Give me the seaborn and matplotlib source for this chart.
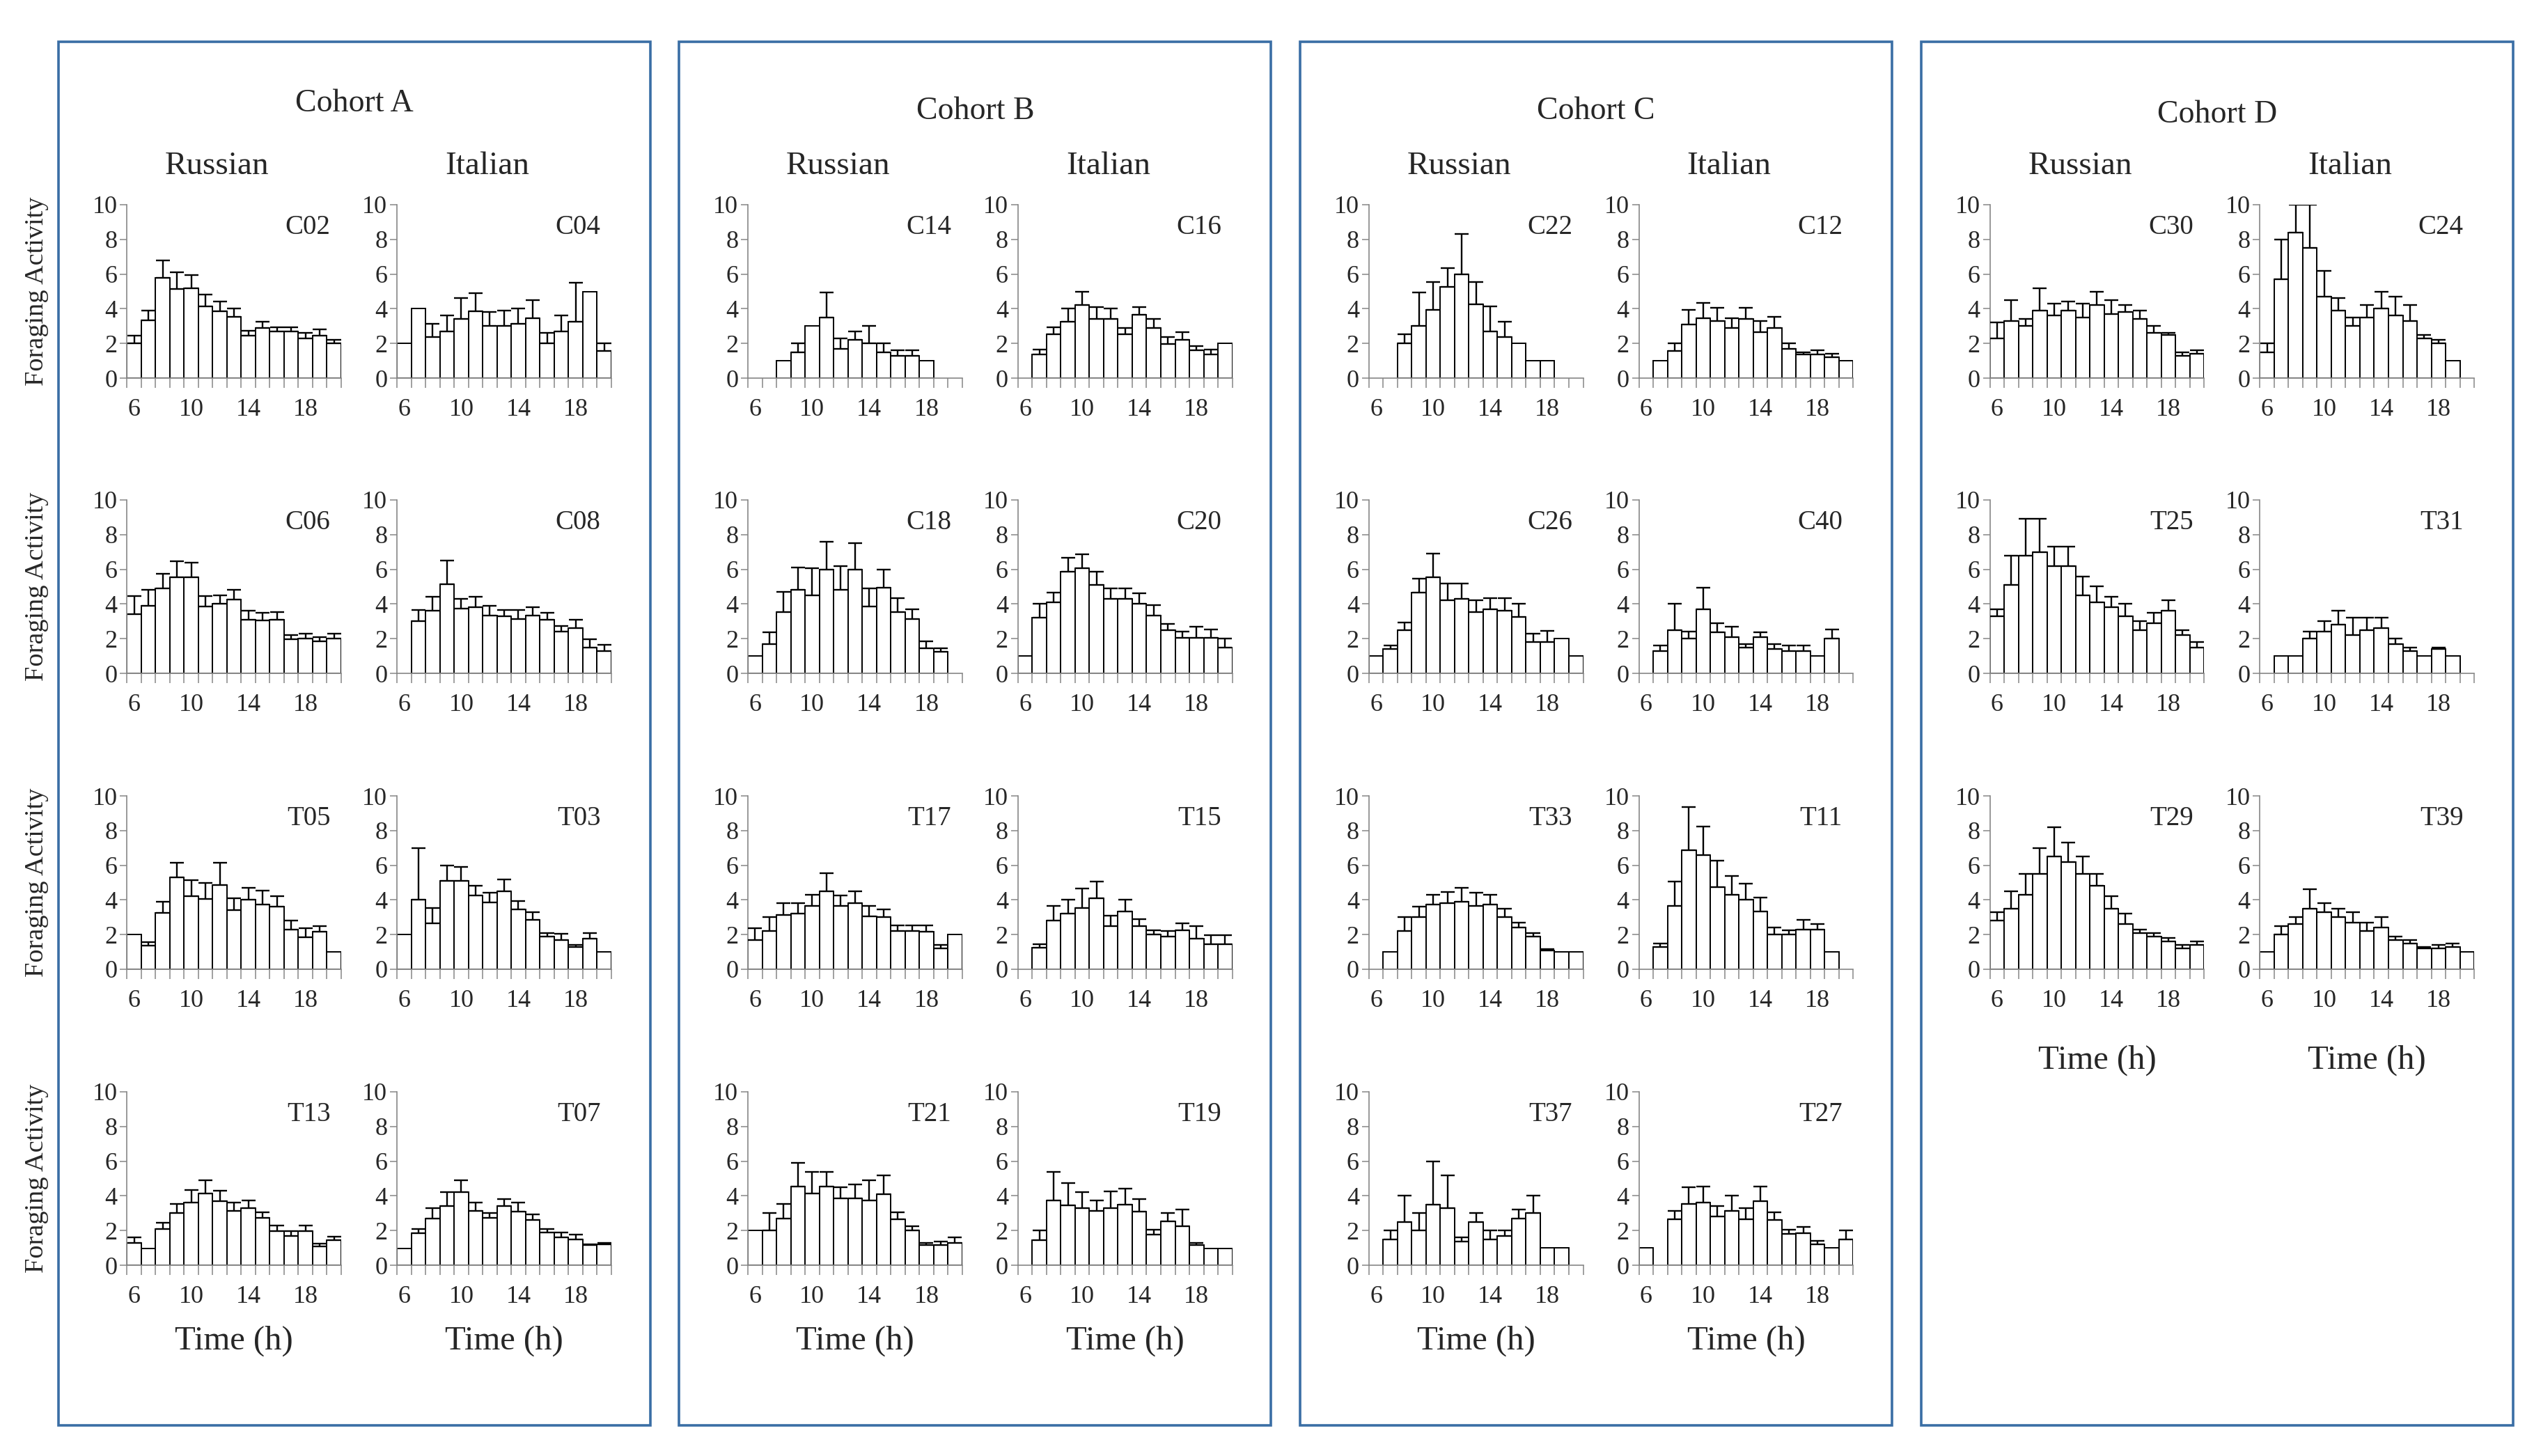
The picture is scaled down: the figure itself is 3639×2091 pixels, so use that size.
import numpy as np
import pandas as pd
import matplotlib
matplotlib.use("Agg")
import matplotlib.pyplot as plt
import seaborn as sns
from matplotlib.patches import Rectangle

sns.set_style("white")
plt.rcParams["font.family"] = ["Liberation Serif", "DejaVu Serif"]

# ---------------- data ----------------
HOURS = list(range(6, 21))
TICK_HOURS = [6, 10, 14, 18]
COHORT_TITLES = ["Cohort A", "Cohort B", "Cohort C", "Cohort D"]
LINE_TITLES = ["Russian", "Italian"]
Y_LABEL = "Foraging Activity"
X_LABEL = "Time (h)"

# Cohort A
C02_mean = [2.0, 3.35, 5.8, 5.15, 5.2, 4.15, 3.85, 3.55, 2.45, 2.9, 2.7, 2.7, 2.3, 2.45, 2.0]
C02_upper = [2.45, 3.9, 6.8, 6.1, 5.95, 4.8, 4.4, 4.0, 2.75, 3.25, 2.95, 2.95, 2.6, 2.8, 2.2]
C04_mean = [2.0, 4.0, 2.35, 2.7, 3.4, 3.85, 3.0, 3.0, 3.15, 3.45, 2.0, 2.7, 3.25, 5.0, 1.55]
C04_upper = [None, None, 3.15, 3.6, 4.6, 4.9, 3.8, 3.9, 4.0, 4.5, 2.6, 3.6, 5.5, None, 2.0]
C06_mean = [3.4, 3.9, 4.9, 5.55, 5.55, 3.85, 4.0, 4.25, 3.1, 3.05, 3.1, 1.95, 2.0, 1.85, 2.0]
C06_upper = [4.45, 4.8, 5.75, 6.45, 6.4, 4.45, 4.5, 4.8, 3.6, 3.5, 3.55, 2.2, 2.3, 2.1, 2.3]
C08_mean = [None, 3.0, 3.6, 5.15, 3.75, 3.8, 3.35, 3.3, 3.15, 3.35, 3.1, 2.4, 2.6, 1.5, 1.3]
C08_upper = [None, 3.65, 4.4, 6.5, 4.3, 4.4, 3.9, 3.65, 3.65, 3.8, 3.5, 2.75, 3.1, 1.95, 1.65]
T05_mean = [2.0, 1.35, 3.25, 5.3, 4.2, 4.05, 4.85, 3.4, 4.0, 3.75, 3.6, 2.3, 1.85, 2.15, 1.0]
T05_upper = [None, 1.55, 3.9, 6.15, 5.15, 5.0, 6.15, 4.1, 4.7, 4.55, 4.2, 2.8, 2.35, 2.5, None]
T03_mean = [2.0, 4.0, 2.65, 5.1, 5.1, 4.25, 3.85, 4.5, 3.45, 2.85, 1.9, 1.7, 1.3, 1.75, 1.0]
T03_upper = [None, 7.0, 3.55, 6.0, 5.9, 4.8, 4.4, 5.2, 3.95, 3.3, 2.1, 2.05, 1.4, 2.1, None]
T13_mean = [1.3, 0.95, 2.1, 3.0, 3.6, 4.15, 3.7, 3.15, 3.3, 2.75, 1.95, 1.7, 1.95, 1.1, 1.45]
T13_upper = [1.6, None, 2.45, 3.55, 4.35, 4.9, 4.3, 3.6, 3.75, 3.05, 2.3, 1.95, 2.3, 1.25, 1.65]
T07_mean = [0.95, 1.85, 2.7, 3.4, 4.2, 3.15, 2.75, 3.4, 3.1, 2.6, 1.9, 1.6, 1.5, 1.15, 1.2]
T07_upper = [None, 2.1, 3.3, 4.2, 4.9, 3.6, 3.0, 3.8, 3.6, 2.95, 2.1, 1.9, 1.75, 1.2, 1.3]

# Cohort B
C14_mean = [None, None, 1.0, 1.5, 3.0, 3.5, 1.7, 2.2, 2.0, 1.5, 1.3, 1.3, 1.0, None, None]
C14_upper = [None, None, None, 2.0, None, 4.95, 2.3, 2.7, 3.0, 2.0, 1.6, 1.6, None, None, None]
C16_mean = [None, 1.35, 2.55, 3.25, 4.2, 3.4, 3.4, 2.55, 3.65, 2.9, 1.95, 2.2, 1.6, 1.35, 2.0]
C16_upper = [None, 1.65, 2.95, 4.0, 5.0, 4.1, 4.0, 2.9, 4.1, 3.4, 2.35, 2.65, 1.85, 1.65, None]
C18_mean = [1.0, 1.7, 3.55, 4.8, 4.5, 6.0, 4.8, 6.0, 3.85, 4.95, 3.55, 3.15, 1.45, 1.25, None]
C18_upper = [None, 2.35, 4.7, 6.1, 6.05, 7.6, 6.2, 7.5, 4.9, 6.0, 4.35, 3.7, 1.85, 1.45, None]
C20_mean = [1.0, 3.2, 4.1, 5.85, 6.05, 5.1, 4.3, 4.3, 4.0, 3.35, 2.5, 2.05, 2.05, 2.05, 1.5]
C20_upper = [None, 4.0, 4.65, 6.65, 6.85, 5.85, 4.9, 4.9, 4.6, 3.95, 2.85, 2.4, 2.7, 2.55, 2.0]
T17_mean = [1.7, 2.2, 3.15, 3.2, 3.65, 4.5, 3.65, 3.8, 3.05, 3.0, 2.2, 2.2, 2.15, 1.2, 2.0]
T17_upper = [2.35, 3.0, 3.8, 3.8, 4.3, 5.55, 4.25, 4.5, 3.65, 3.45, 2.55, 2.55, 2.55, 1.4, None]
T15_mean = [None, 1.25, 2.8, 3.2, 3.55, 4.1, 2.5, 3.35, 2.5, 2.0, 1.9, 2.25, 1.75, 1.45, 1.45]
T15_upper = [None, 1.45, 3.65, 4.0, 4.65, 5.05, 3.1, 4.0, 2.9, 2.25, 2.2, 2.65, 2.5, 1.95, 1.95]
T21_mean = [2.0, 2.0, 2.7, 4.55, 4.15, 4.55, 3.85, 3.85, 3.75, 4.1, 2.65, 2.0, 1.15, 1.15, 1.3]
T21_upper = [None, 3.0, 3.55, 5.9, 5.4, 5.4, 4.5, 4.65, 4.9, 5.2, 3.05, 2.25, 1.3, 1.35, 1.6]
T19_mean = [None, 1.45, 3.75, 3.45, 3.3, 3.15, 3.3, 3.5, 3.1, 1.75, 2.55, 2.25, 1.15, 0.95, 0.95]
T19_upper = [None, 2.0, 5.4, 4.75, 4.2, 3.75, 4.25, 4.4, 3.8, 2.05, 3.0, 3.2, 1.3, None, None]

# Cohort C
C22_mean = [None, None, 2.0, 3.0, 3.95, 5.25, 6.0, 4.25, 2.7, 2.35, 2.0, 1.0, 1.0, None, None]
C22_upper = [None, None, 2.55, 4.95, 5.55, 6.35, 8.3, 5.55, 4.15, 3.25, None, None, None, None, None]
C12_mean = [None, 1.0, 1.55, 3.1, 3.45, 3.3, 2.9, 3.4, 2.65, 2.9, 1.7, 1.35, 1.35, 1.2, 1.0]
C12_upper = [None, None, 2.0, 3.95, 4.35, 4.05, 3.45, 4.05, 3.3, 3.55, 2.0, 1.5, 1.6, 1.4, None]
C26_mean = [1.0, 1.4, 2.5, 4.65, 5.55, 4.2, 4.3, 3.55, 3.7, 3.6, 3.25, 1.8, 1.8, 2.0, 1.0]
C26_upper = [None, 1.6, 2.95, 5.45, 6.9, 5.2, 5.2, 4.2, 4.35, 4.35, 4.0, 2.3, 2.45, None, None]
C40_mean = [None, 1.3, 2.5, 2.0, 3.7, 2.35, 2.1, 1.5, 2.1, 1.4, 1.3, 1.3, 1.0, 2.0, None]
C40_upper = [None, 1.6, 4.0, 2.4, 4.95, 2.9, 2.7, 1.7, 2.35, 1.7, 1.6, 1.6, None, 2.55, None]
T33_mean = [None, 1.0, 2.2, 3.0, 3.75, 3.8, 3.9, 3.65, 3.75, 3.0, 2.4, 1.9, 1.1, 1.0, 1.0]
T33_upper = [None, None, 3.0, 3.6, 4.3, 4.45, 4.7, 4.4, 4.3, 3.5, 2.7, 2.1, 1.15, None, None]
T11_mean = [None, 1.3, 3.65, 6.85, 6.6, 4.75, 4.3, 4.0, 3.35, 2.0, 2.0, 2.3, 2.3, 1.0, None]
T11_upper = [None, 1.5, 5.05, 9.35, 8.25, 6.25, 5.4, 4.95, 4.15, 2.4, 2.25, 2.85, 2.6, None, None]
T37_mean = [None, 1.5, 2.5, 2.0, 3.5, 3.3, 1.35, 2.5, 1.5, 1.7, 2.7, 3.0, 1.0, 1.0, None]
T37_upper = [None, 2.0, 4.0, 3.0, 6.0, 5.2, 1.6, 3.0, 2.0, 2.0, 3.2, 4.0, None, None, None]
T27_mean = [1.0, None, 2.65, 3.55, 3.6, 2.8, 3.15, 2.65, 3.7, 2.6, 1.8, 1.85, 1.2, 1.0, 1.5]
T27_upper = [None, None, 3.15, 4.5, 4.55, 3.4, 4.0, 3.3, 4.55, 3.05, 2.05, 2.2, 1.4, None, 2.0]

# Cohort D
C30_mean = [2.3, 3.3, 3.0, 3.9, 3.6, 3.9, 3.5, 4.2, 3.7, 3.8, 3.4, 2.6, 2.5, 1.3, 1.4]
C30_upper = [3.2, 4.5, 3.4, 5.2, 4.3, 4.4, 4.3, 5.0, 4.5, 4.2, 3.9, 3.0, 2.6, 1.5, 1.6]
C24_mean = [1.5, 5.7, 8.4, 7.5, 4.7, 3.9, 3.0, 3.5, 4.0, 3.6, 3.3, 2.3, 2.0, 1.0, None]
C24_upper = [2.0, 8.0, 10.0, 10.0, 6.2, 4.6, 3.5, 4.2, 5.0, 4.7, 4.2, 2.5, 2.2, None, None]
T25_mean = [3.3, 5.1, 6.8, 7.0, 6.2, 6.2, 4.5, 4.1, 3.8, 3.3, 2.5, 2.9, 3.6, 2.2, 1.5]
T25_upper = [3.7, 6.8, 8.9, 8.9, 7.3, 7.3, 5.6, 5.0, 4.4, 4.0, 3.0, 3.5, 4.2, 2.5, 1.8]
T31_mean = [None, 1.0, 1.0, 2.0, 2.4, 2.8, 2.2, 2.5, 2.6, 1.7, 1.3, 1.0, 1.4, 1.0, None]
T31_upper = [None, None, None, 2.4, 3.0, 3.6, 3.2, 3.2, 3.2, 2.0, 1.5, None, 1.5, None, None]
T29_mean = [2.8, 3.5, 4.3, 5.5, 6.5, 6.2, 5.5, 4.8, 3.5, 2.6, 2.1, 1.9, 1.6, 1.2, 1.4]
T29_upper = [3.3, 4.5, 5.5, 7.0, 8.2, 7.3, 6.5, 5.5, 4.2, 3.2, 2.3, 2.1, 1.8, 1.4, 1.6]
T39_mean = [1.0, 2.0, 2.6, 3.5, 3.3, 3.0, 2.7, 2.2, 2.4, 1.7, 1.5, 1.2, 1.2, 1.3, 1.0]
T39_upper = [None, 2.5, 3.0, 4.6, 3.8, 3.5, 3.3, 2.7, 3.0, 1.9, 1.7, 1.3, 1.4, 1.5, None]

COHORT_PANELS = [
    [[("C02", C02_mean, C02_upper), ("C04", C04_mean, C04_upper)],
     [("C06", C06_mean, C06_upper), ("C08", C08_mean, C08_upper)],
     [("T05", T05_mean, T05_upper), ("T03", T03_mean, T03_upper)],
     [("T13", T13_mean, T13_upper), ("T07", T07_mean, T07_upper)]],
    [[("C14", C14_mean, C14_upper), ("C16", C16_mean, C16_upper)],
     [("C18", C18_mean, C18_upper), ("C20", C20_mean, C20_upper)],
     [("T17", T17_mean, T17_upper), ("T15", T15_mean, T15_upper)],
     [("T21", T21_mean, T21_upper), ("T19", T19_mean, T19_upper)]],
    [[("C22", C22_mean, C22_upper), ("C12", C12_mean, C12_upper)],
     [("C26", C26_mean, C26_upper), ("C40", C40_mean, C40_upper)],
     [("T33", T33_mean, T33_upper), ("T11", T11_mean, T11_upper)],
     [("T37", T37_mean, T37_upper), ("T27", T27_mean, T27_upper)]],
    [[("C30", C30_mean, C30_upper), ("C24", C24_mean, C24_upper)],
     [("T25", T25_mean, T25_upper), ("T31", T31_mean, T31_upper)],
     [("T29", T29_mean, T29_upper), ("T39", T39_mean, T39_upper)]],
]

# ---------------- layout ----------------
W, H = 1567.0, 900.0          # reference layout units
fig = plt.figure(figsize=(36.39, 20.91), dpi=100)
fig.patch.set_facecolor("white")

BOX_COLOR = "#3A6EA5"
SPINE_COLOR = "#868686"
box_lefts = [36, 420, 804, 1188]
box_w = 366
box_top, box_bot = 26, 881
panel_offsets = [42.5, 209.5]
panel_w = 132.5
row_bottom_px = [543, 967, 1392, 1817]   # in 2091-high pixels
row_h_px = 249
title_y = [0.929, 0.9235, 0.9235, 0.921]


def draw_panel(ax, label, mean, upper):
    df = pd.DataFrame({"hour": HOURS, "value": pd.array(mean, dtype="Float64")})
    df = df.dropna()
    df["value"] = df["value"].astype(float)
    sns.barplot(data=df, x="hour", y="value", order=HOURS, color="white",
                edgecolor="black", linewidth=1.4, width=1.0, saturation=1,
                errorbar=None, ax=ax, zorder=2)
    idx = [i for i, (m, u) in enumerate(zip(mean, upper)) if m is not None and u is not None]
    if idx:
        ys = [mean[i] for i in idx]
        ups = [upper[i] - mean[i] for i in idx]
        ax.errorbar(idx, ys, yerr=[np.zeros(len(idx)), ups], fmt="none",
                    ecolor="black", elinewidth=1.7, capsize=7, capthick=1.7, zorder=3)
    ax.set_xlim(-0.5, len(HOURS) - 0.5)
    ax.set_ylim(0, 10)
    ax.set_yticks(range(0, 11, 2))
    ax.set_xticks([HOURS.index(h) for h in TICK_HOURS])
    ax.set_xticklabels([str(h) for h in TICK_HOURS])
    ax.set_xticks(np.arange(-0.5, len(HOURS), 1.0), minor=True)
    ax.tick_params(axis="x", which="major", bottom=True, length=0, pad=21, labelsize=26)
    ax.tick_params(axis="x", which="minor", bottom=True, length=10, width=1.1,
                   color=SPINE_COLOR, direction="out")
    ax.tick_params(axis="y", which="major", left=True, length=7, width=1.1,
                   color=SPINE_COLOR, direction="out", labelsize=26, pad=3)
    for s in ["top", "right"]:
        ax.spines[s].set_visible(False)
    for s in ["left", "bottom"]:
        ax.spines[s].set_color(SPINE_COLOR)
        ax.spines[s].set_linewidth(1.2)
    ax.set_xlabel("")
    ax.set_ylabel("")
    ax.set_facecolor("none")
    ax.text(0.95, 0.87, label, transform=ax.transAxes, ha="right", va="center",
            fontsize=28)


for c, rows in enumerate(COHORT_PANELS):
    bl = box_lefts[c]
    rect = Rectangle((bl / W, 1 - box_bot / H), box_w / W, (box_bot - box_top) / H,
                     transform=fig.transFigure, fill=False, edgecolor=BOX_COLOR,
                     linewidth=2.6)
    fig.add_artist(rect)
    fig.text((bl + box_w / 2) / W, title_y[c], COHORT_TITLES[c], ha="center",
             va="center", fontsize=33)
    for j, line in enumerate(LINE_TITLES):
        cx = (bl + panel_offsets[j] + panel_w / 2 - 10.5) / W
        fig.text(cx, 0.8857, line, ha="center", va="center", fontsize=34)
    for r, row in enumerate(rows):
        bottom = 1 - row_bottom_px[r] / 2091.0
        height = row_h_px / 2091.0
        for j, (label, mean, upper) in enumerate(row):
            left = (bl + panel_offsets[j]) / W
            ax = fig.add_axes([left, bottom, panel_w / W, height])
            draw_panel(ax, label, mean, upper)
            if c == 0 and j == 0:
                fig.text(0.0145, bottom + height / 2, Y_LABEL, rotation=90,
                         ha="center", va="center", fontsize=27.5)
            if r == len(rows) - 1:
                ty = 0.079 if c < 3 else 0.2716
                fig.text(left + panel_w / W / 2, ty, X_LABEL, ha="center",
                         va="center", fontsize=35)

fig.savefig("out.png", dpi=100, facecolor="white")
